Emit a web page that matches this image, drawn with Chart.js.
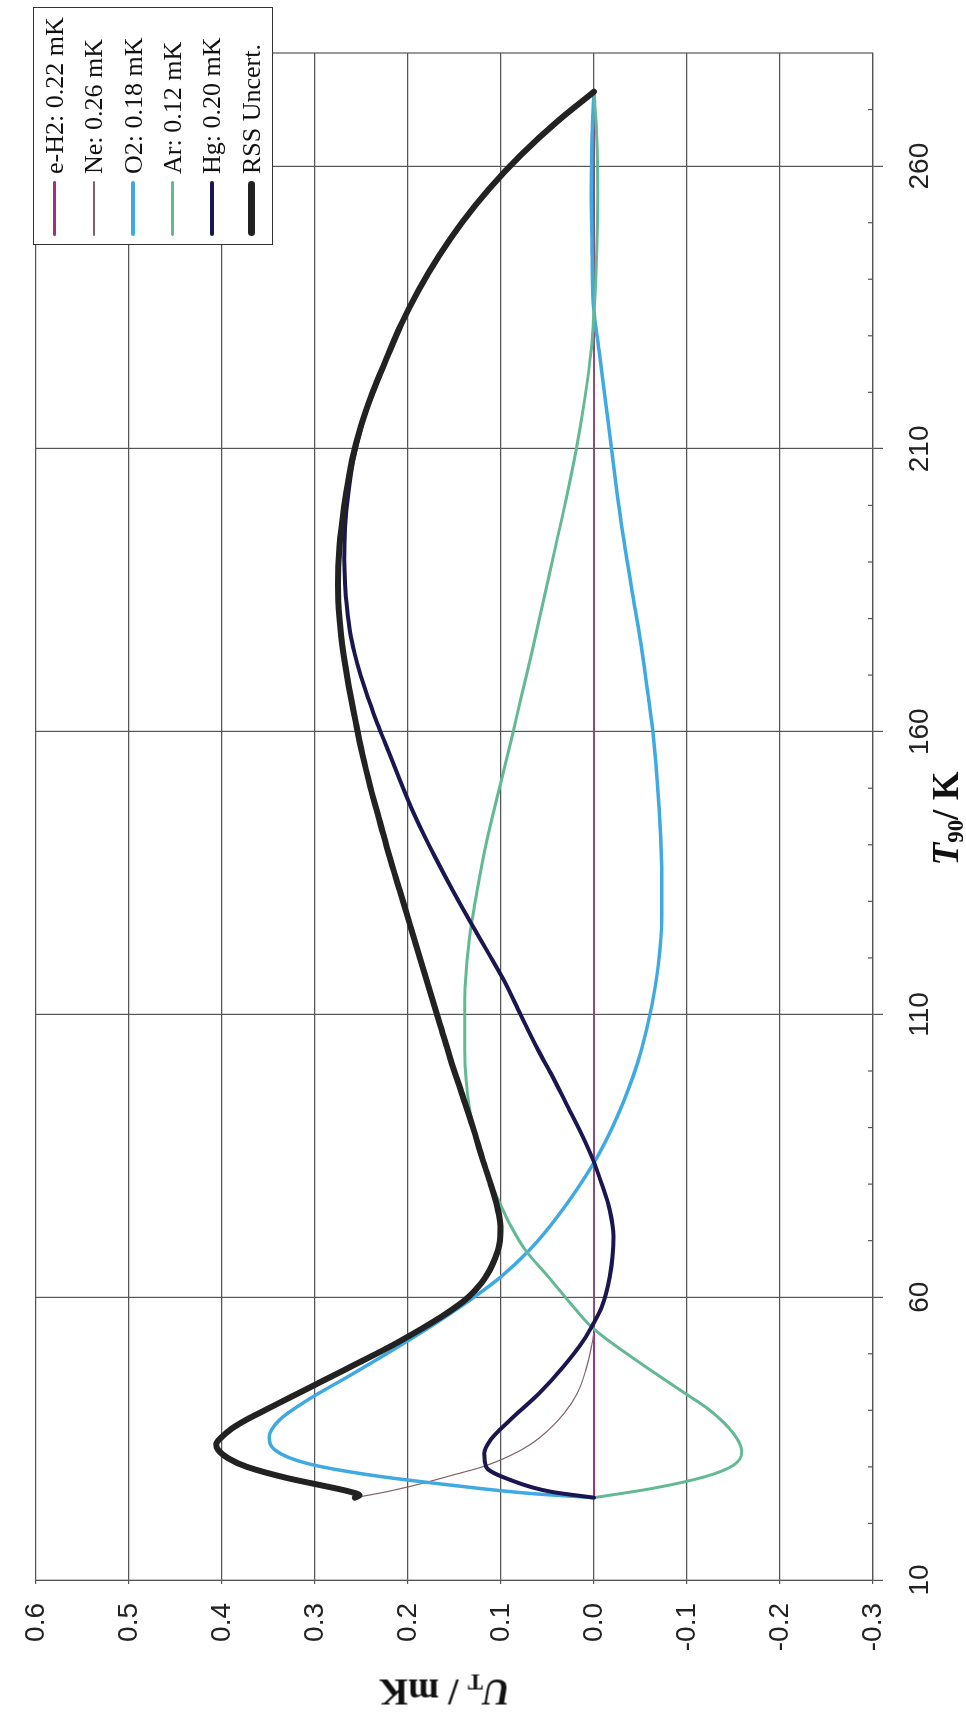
<!DOCTYPE html>
<html>
<head>
<meta charset="utf-8">
<script src="https://cdn.jsdelivr.net/npm/chart.js@4.4.1/dist/chart.umd.min.js"></script>
<style>
html,body{margin:0;padding:0;width:966px;height:1713px;overflow:hidden;background:#fff;}
#rot{position:absolute;left:0;top:0;width:1713px;height:966px;transform-origin:0 0;transform:translate(0,1713px) rotate(-90deg);background:#fff;}
#c{position:absolute;left:0;top:0;width:1713px;height:966px;}
.ttl{position:absolute;font-family:"Liberation Serif","Times New Roman",serif;font-weight:bold;font-size:37px;line-height:37px;color:#111;white-space:nowrap;text-align:center;}
.ttl sub{font-size:0.62em;line-height:0;vertical-align:-0.22em;}
#yt{left:-179.5px;top:425.5px;width:400px;height:37px;transform:rotate(-90deg);}
#xt{left:133px;top:927px;width:1523px;}
#leg{position:absolute;left:1468px;top:33px;width:238px;height:240px;border:1px solid #333;background:#fff;box-sizing:border-box;}
.row{position:absolute;left:0;width:236px;height:39.3px;}
.sw{position:absolute;left:8px;width:55px;top:50%;border-radius:4px;}
.lt{position:absolute;left:70px;top:0;height:39.3px;line-height:39.3px;font-family:"Liberation Serif","Times New Roman",serif;font-size:26px;color:#111;white-space:nowrap;}
</style>
</head>
<body>
<div id="rot">
  <canvas id="c" width="1713" height="966"></canvas>
  <div id="leg"></div>
  <div class="ttl" id="xt"><i>T</i><sub>90</sub>/ K</div>
  <div class="ttl" id="yt"><i>U</i><sub>T</sub> / mK</div>
</div>
<script>
// ---- tick labels ----
const T_TICKS = [10, 60, 110, 160, 210, 260];
const T_MINOR = [20, 30, 40, 50, 70, 80, 90, 100, 120, 130, 140, 150, 170, 180, 190, 200, 220, 230, 240, 250, 270];
const U_TICKS = [-0.3, -0.2, -0.1, 0.0, 0.1, 0.2, 0.3, 0.4, 0.5, 0.6];

// ---- series names ----
const SERIES = ["e-H2: 0.22 mK", "Ne: 0.26 mK", "O2: 0.18 mK", "Ar: 0.12 mK", "Hg: 0.20 mK", "RSS Uncert."];

// ---- data (T90 / K, U_T / mK) ----
const EH2_T = [24.56, 273.16];
const EH2_U = [0, 0];

const NE_T = [24.56, 25.5, 26.5, 27.5, 28.5, 30.0, 32.0, 34.0, 36.5, 39.5, 43.0, 47.0, 51.0, 54.36, 100, 273.16];
const NE_U = [0.257, 0.226, 0.199, 0.175, 0.153, 0.120, 0.090, 0.068, 0.049, 0.032, 0.018, 0.009, 0.003, 0, 0, 0];

const O2_T = [24.56, 25.3, 26.8, 28.6, 30.6, 33.0, 35.3, 38.3, 41.8, 46.0, 50.0, 54.36, 57.5, 60.0, 63.6, 68.4, 74.3, 83.8, 91.9, 99.0, 103.7, 111.4, 118.5, 127.3, 136.2, 148.0, 159.8, 165.6, 174.5, 183.4, 195.1, 204.0, 215.7, 227.5, 234.3, 245.0, 255.0, 265.0, 273.16];
const O2_U = [0, 0.068, 0.155, 0.242, 0.308, 0.343, 0.349, 0.338, 0.308, 0.264, 0.223, 0.180, 0.151, 0.129, 0.100, 0.069, 0.039, 0.0, -0.025, -0.042, -0.051, -0.062, -0.069, -0.073, -0.0728, -0.0695, -0.0635, -0.059, -0.0515, -0.0425, -0.031, -0.0235, -0.0145, -0.0055, 0.0, 0.002, 0.003, 0.002, 0.0];

const AR_T = [24.56, 26.2, 28.3, 30.3, 32.7, 35.9, 40.1, 43.0, 48.9, 54.36, 58.1, 63.6, 68.4, 72.5, 76.6, 83.8, 93.6, 103.7, 112.6, 123.2, 131.5, 140.9, 149.7, 159.8, 165.6, 174.5, 183.4, 192.2, 201.0, 209.9, 218.7, 227.5, 234.3, 245.0, 255.0, 265.0, 273.16];
const AR_U = [0, -0.063, -0.120, -0.150, -0.159, -0.150, -0.124, -0.098, -0.045, 0.0, 0.021, 0.049, 0.074, 0.089, 0.101, 0.120, 0.134, 0.139, 0.139, 0.134, 0.126, 0.115, 0.102, 0.087, 0.079, 0.066, 0.054, 0.042, 0.030, 0.019, 0.010, 0.003, 0.0, -0.003, -0.004, -0.003, 0.0];

const HG_T = [24.56, 25.6, 27.7, 30.0, 32.4, 34.8, 38.3, 43.0, 47.7, 52.4, 55.5, 58.1, 63.6, 70.7, 75.4, 80.2, 84.3, 88.4, 94.3, 99.5, 103.7, 110.0, 116.1, 121.0, 126.7, 132.0, 137.9, 142.0, 146.8, 152.0, 158.0, 162.1, 165.6, 169.8, 174.0, 177.4, 182.0, 186.3, 190.5, 196.0, 202.0, 208.0, 214.0, 220.0, 226.0, 232.0, 238.0, 244.0, 250.0, 256.0, 262.0, 268.0, 273.16];
const HG_U = [0, 0.046, 0.090, 0.116, 0.118, 0.111, 0.090, 0.059, 0.033, 0.011, 0.0, -0.008, -0.017, -0.021, -0.017, -0.008, 0.001, 0.012, 0.030, 0.046, 0.060, 0.079, 0.097, 0.114, 0.134, 0.152, 0.171, 0.1835, 0.197, 0.210, 0.2245, 0.2345, 0.242, 0.2505, 0.2575, 0.262, 0.2655, 0.2675, 0.2685, 0.2675, 0.2642, 0.2587, 0.2497, 0.2375, 0.2228, 0.2068, 0.1882, 0.1666, 0.1414, 0.1120, 0.0778, 0.0382, 0.0];

const RSS_T = [24.56, 25.0, 25.6, 26.5, 28.0, 30.0, 31.5, 33.0, 34.0, 35.3, 36.8, 38.3, 40.0, 42.0, 44.0, 46.0, 48.0, 50.0, 52.0, 54.36, 57.2, 60.0, 62.5, 64.8, 67.0, 69.5, 72.5, 76.0, 80.0, 84.0, 90.0, 96.0, 102.0, 108.0, 114.0, 120.0, 126.0, 132.0, 138.0, 144.0, 150.0, 156.0, 162.0, 168.0, 174.0, 180.0, 186.0, 190.0, 196.0, 202.0, 208.0, 214.0, 220.0, 226.0, 232.0, 238.0, 244.0, 250.0, 256.0, 262.0, 268.0, 273.16];
const RSS_U = [0.257, 0.252, 0.262, 0.286, 0.329, 0.373, 0.393, 0.404, 0.406, 0.400, 0.389, 0.374, 0.354, 0.330, 0.306, 0.282, 0.258, 0.234, 0.211, 0.186, 0.158, 0.135, 0.121, 0.112, 0.106, 0.1015, 0.1005, 0.104, 0.111, 0.119, 0.130, 0.142, 0.154, 0.165, 0.176, 0.187, 0.198, 0.209, 0.220, 0.230, 0.240, 0.249, 0.2565, 0.2635, 0.2695, 0.2735, 0.275, 0.2745, 0.2715, 0.2667, 0.2601, 0.2505, 0.2379, 0.2229, 0.2073, 0.1887, 0.1671, 0.1419, 0.1125, 0.0783, 0.0387, 0.0];

// ---- styles ----
const COLORS = ["#a2307a", "#7d6468", "#3fa9e2", "#62b993", "#1b1650", "#222222"];
const WIDTHS = [2, 1.2, 3.5, 3, 4, 6];
const LEG_WIDTHS = [2.5, 1.2, 4, 3.5, 4.5, 7];
const GRID = "#555555";

const pts = (T, U) => T.map((t, i) => ({x: t, y: U[i]}));
const RAW = [[EH2_T, EH2_U], [NE_T, NE_U], [O2_T, O2_U], [AR_T, AR_U], [HG_T, HG_U], [RSS_T, RSS_U]];

const datasets = RAW.map((r, i) => ({
  label: SERIES[i],
  data: pts(r[0], r[1]),
  showLine: true,
  borderColor: COLORS[i],
  backgroundColor: COLORS[i],
  borderWidth: WIDTHS[i],
  pointRadius: 0,
  pointHoverRadius: 0,
  cubicInterpolationMode: 'monotone',
  borderCapStyle: 'round',
  borderJoinStyle: 'round',
  order: RAW.length - 1 - i,
  fill: false
}));

// legend (HTML)
const leg = document.getElementById('leg');
SERIES.forEach((s, i) => {
  const row = document.createElement('div');
  row.className = 'row';
  row.style.top = (1 + i * 39.3) + 'px';
  const sw = document.createElement('div');
  sw.className = 'sw';
  sw.style.height = LEG_WIDTHS[i] + 'px';
  sw.style.marginTop = (-LEG_WIDTHS[i] / 2) + 'px';
  sw.style.background = COLORS[i];
  const lt = document.createElement('div');
  lt.className = 'lt';
  lt.textContent = s;
  row.appendChild(sw); row.appendChild(lt);
  leg.appendChild(row);
});

const framePlugin = {
  id: 'framePlugin',
  afterDraw(chart) {
    const {ctx, chartArea: a} = chart;
    const x = chart.scales.x;
    ctx.save();
    ctx.strokeStyle = GRID;
    ctx.lineWidth = 1.2;
    ctx.beginPath();
    ctx.moveTo(a.right, a.top); ctx.lineTo(a.right, a.bottom);
    T_MINOR.forEach(t => {
      const px = x.getPixelForValue(t);
      ctx.moveTo(px, a.bottom - 5); ctx.lineTo(px, a.bottom);
    });
    ctx.stroke();
    ctx.restore();
  }
};

const tickFont = {family: '"Liberation Sans", Arial, sans-serif', size: 28};

new Chart(document.getElementById('c'), {
  type: 'scatter',
  data: {datasets},
  options: {
    responsive: false,
    devicePixelRatio: 1,
    animation: false,
    layout: {padding: {left: 0, top: 17, right: 53, bottom: 0}},
    plugins: {legend: {display: false}, tooltip: {enabled: false}},
    scales: {
      x: {
        type: 'linear', min: 10, max: 280,
        afterBuildTicks: s => { s.ticks = T_TICKS.map(v => ({value: v})); },
        afterFit: s => { s.height = 93; },
        ticks: {font: tickFont, color: '#222', padding: 20, maxRotation: 0, callback: v => String(v)},
        grid: {color: GRID, lineWidth: 1.2, tickLength: 10, tickColor: GRID, drawTicks: true},
        border: {color: GRID, width: 1.2}
      },
      y: {
        type: 'linear', min: -0.3, max: 0.6,
        afterBuildTicks: s => { s.ticks = U_TICKS.map(v => ({value: v})); },
        afterFit: s => { s.width = 133; },
        ticks: {font: tickFont, color: '#222', padding: 19, callback: v => (Math.abs(v) < 1e-9 ? 0 : v).toFixed(1)},
        grid: {color: GRID, lineWidth: 1.2, tickLength: 4, tickColor: GRID, drawTicks: true},
        border: {color: GRID, width: 1.2}
      }
    }
  },
  plugins: [framePlugin]
});
</script>
</body>
</html>
